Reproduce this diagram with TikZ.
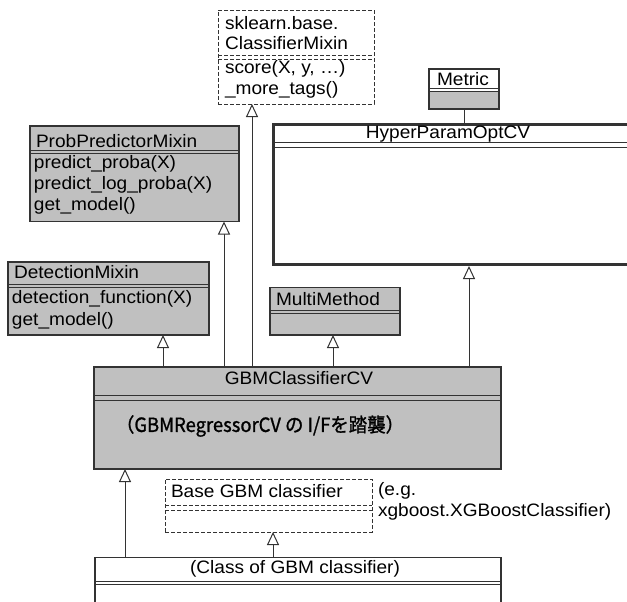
\documentclass[tikz,border=0pt]{standalone}
\usepackage{fontspec}
\setmainfont{Liberation Sans}[FakeStretch=1.06]
\newfontfamily\cjk{Noto Sans CJK JP}[FakeBold=1.2]
\usetikzlibrary{arrows.meta}
\definecolor{umlgray}{HTML}{C0C0C0}
\definecolor{umlline}{HTML}{333333}
\begin{document}
\begin{tikzpicture}[x=1pt,y=-1pt,
  font=\fontsize{18}{21}\selectfont,
  cls/.style={draw=umlline, line width=1.2pt, inner sep=0pt, outer sep=0pt, anchor=north west},
  gcls/.style={cls, fill=umlgray},
  dcls/.style={cls, dash pattern=on 4pt off 2pt, line width=0.9pt},
  txt/.style={inner sep=0pt, outer sep=0pt, anchor=west},
  ctxt/.style={inner sep=0pt, outer sep=0pt},
  divl/.style={draw=umlline, line width=1pt},
  ddivl/.style={draw=umlline, line width=0.9pt, dash pattern=on 4pt off 2pt},
  inh/.style={draw=umlline, line width=1pt, -{Triangle[open, length=13pt, width=12pt, fill=white]}},
  assoc/.style={draw=umlline, line width=1pt}]
\useasboundingbox (0,0) rectangle (627,602);
\clip (0,0) rectangle (627,602);

% sklearn.base.ClassifierMixin
\node[dcls, minimum width=156pt, minimum height=94pt] (cm) at (218,10) {};
\draw[ddivl] (218,55) -- (374,55);
\draw[ddivl] (218,59.5) -- (374,59.5);
\node[txt] (cm1) at (225,23) {sklearn.base.};
\node[txt] (cm2) at (225,43) {ClassifierMixin};
\node[txt] (cm3) at (225,69) {score(X, y, …)};
\node[txt] (cm4) at (225,90) {\_more\_tags()};

% ProbPredictorMixin
\node[gcls, minimum width=209pt, minimum height=95.5pt] (pp) at (30,126) {};
\draw[divl] (30,150.5) -- (239,150.5);
\draw[divl] (30,153) -- (239,153);
\node[txt] (pp0) at (36,141) {ProbPredictorMixin};
\node[txt] (pp1) at (34,164) {predict\_proba(X)};
\node[txt] (pp2) at (34,185) {predict\_log\_proba(X)};
\node[txt] (pp3) at (34,206) {get\_model()};

% Metric
\fill[umlgray] (429,92) rectangle (499,109);
\node[cls, minimum width=70pt, minimum height=40pt] (metric) at (429,69) {};
\draw[divl] (429,89) -- (499,89);
\draw[divl] (429,92) -- (499,92);
\node[ctxt] (metrict) at (463,79) {Metric};

% HyperParamOptCV
\node[cls, line width=3pt, minimum width=368pt, minimum height=140pt] (hyp) at (273,124.5) {};
\draw[divl] (273,142.5) -- (640,142.5);
\draw[divl] (273,147) -- (640,147);
\node[ctxt] (hypt) at (448,134) {HyperParamOptCV};

% DetectionMixin
\node[gcls, minimum width=201pt, minimum height=73pt] (det) at (8,262) {};
\draw[divl] (8,284) -- (209,284);
\draw[divl] (8,287) -- (209,287);
\node[txt] (det0) at (14,272.5) {DetectionMixin};
\node[txt] (det1) at (12,299) {detection\_function(X)};
\node[txt] (det2) at (12,320.5) {get\_model()};

% MultiMethod
\node[gcls, minimum width=130pt, minimum height=47.5pt] (mm) at (270,287.5) {};
\draw[divl] (270,310) -- (400,310);
\draw[divl] (270,313.5) -- (400,313.5);
\node[txt] (mm0) at (276,299) {MultiMethod};

% GBMClassifierCV
\node[gcls, minimum width=407pt, minimum height=102pt] (gbm) at (94,367) {};
\draw[divl] (94,395) -- (501,395);
\draw[divl] (94,400.5) -- (501,400.5);
\node[ctxt] (gbmt) at (299,378) {GBMClassifierCV};
\node[txt] (gbmj) at (116,426) {\resizebox{288pt}{\height}{\fontsize{19.5}{19.5}\selectfont\cjk （GBMRegressorCV の I/Fを踏襲）}};

% Base GBM classifier
\node[dcls, minimum width=207pt, minimum height=53pt] (base) at (165,479) {};
\draw[ddivl] (165,505) -- (372,505);
\draw[ddivl] (165,510.5) -- (372,510.5);
\node[txt] (baset) at (171,491) {Base GBM classifier};
\node[txt] (note1) at (378,491) {(e.g.};
\node[txt] (note2) at (378,512) {xgboost.XGBoostClassifier)};

% (Class of GBM classifier)
\node[cls, minimum width=406pt, minimum height=60pt] (cg) at (95,557.5) {};
\draw[divl] (95,581.5) -- (501,581.5);
\draw[divl] (95,584.5) -- (501,584.5);
\node[ctxt] (cgt) at (295,569) {(Class of GBM classifier)};

% connector x positions
\coordinate (xdet) at (163,0);
\coordinate (xpp) at (224,0);
\coordinate (xcm) at (252,0);
\coordinate (xmm) at (333,0);
\coordinate (xhyp) at (469,0);
\coordinate (xmet) at (464,0);
\coordinate (xcg) at (125,0);
\coordinate (xbase) at (273,0);

\draw[inh] (gbm.north -| xdet) -- (det.south -| xdet);
\draw[inh] (gbm.north -| xpp) -- (pp.south -| xpp);
\draw[inh] (gbm.north -| xcm) -- (cm.south -| xcm);
\draw[inh] (gbm.north -| xmm) -- (mm.south -| xmm);
\draw[inh] (gbm.north -| xhyp) -- ([yshift=-1.5pt]hyp.south -| xhyp);
\draw[assoc] (metric.south -| xmet) -- ([yshift=1.5pt]hyp.north -| xmet);
\draw[inh] (cg.north -| xcg) -- (gbm.south -| xcg);
\draw[inh] (cg.north -| xbase) -- (base.south -| xbase);
\end{tikzpicture}
\end{document}
